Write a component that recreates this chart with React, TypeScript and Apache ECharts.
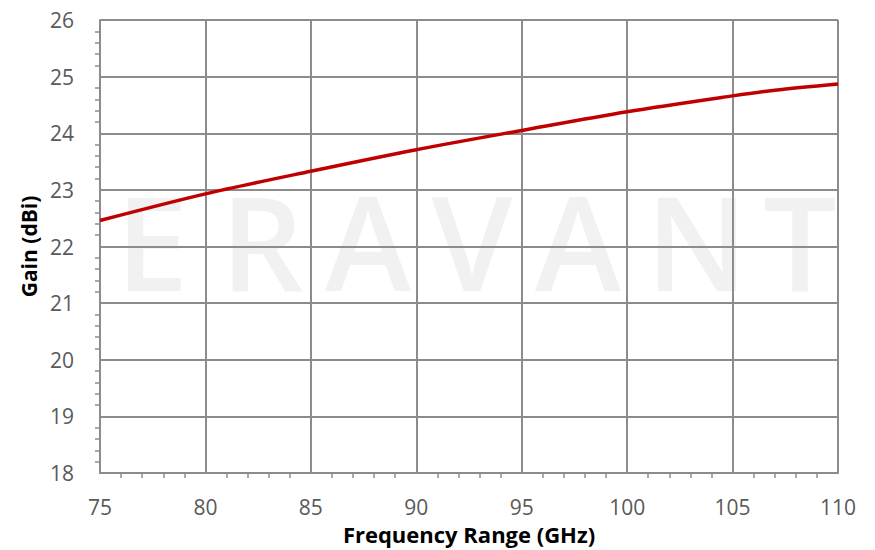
import React, { useEffect, useRef } from "react";
import * as echarts from "echarts";

const frequency = [75, 80, 85, 90, 95, 100, 105, 107, 110];
const gain = [22.46, 22.93, 23.33, 23.71, 24.05, 24.38, 24.66, 24.76, 24.87];
const watermarkLetters = ["E", "R", "A", "V", "A", "N", "T"];
const watermarkCenters = [152, 262, 368, 472, 578, 697, 800];

const FONT = "'Open Sans', sans-serif";

export default function App() {
  const ref = useRef<HTMLDivElement>(null);
  useEffect(() => {
    if (!ref.current) return;
    const chart = echarts.init(ref.current, undefined, { renderer: "svg" });
    const gridColor = "#8c8c8c";
    chart.setOption({
      animation: false,
      backgroundColor: "#ffffff",
      grid: { left: 100, right: 37, top: 20, bottom: 72, containLabel: false },
      graphic: watermarkLetters.map((ch, i) => ({
        type: "text",
        z: -10,
        silent: true,
        x: watermarkCenters[i],
        y: 240,
        style: {
          text: ch,
          fill: "#f1f1f1",
          font: `600 130px ${FONT}`,
          textAlign: "center",
          textVerticalAlign: "middle",
        },
      })),
      xAxis: {
        type: "value",
        min: 75,
        max: 110,
        interval: 5,
        name: "Frequency Range (GHz)",
        nameLocation: "middle",
        nameGap: 50,
        nameTextStyle: { fontFamily: FONT, fontWeight: "bold", fontSize: 22, color: "#000" },
        axisLine: { show: true, lineStyle: { color: gridColor, width: 2 } },
        axisTick: { show: false },
        minorTick: { show: true, splitNumber: 5, length: 5, lineStyle: { color: gridColor, width: 1.5 } },
        axisLabel: { fontFamily: FONT, fontSize: 21, color: "#595959", margin: 23 },
        splitLine: { show: true, lineStyle: { color: gridColor, width: 2 } },
      },
      yAxis: {
        type: "value",
        min: 18,
        max: 26,
        interval: 1,
        name: "Gain (dBi)",
        nameLocation: "middle",
        nameGap: 58,
        nameRotate: 90,
        nameTextStyle: { fontFamily: FONT, fontWeight: "bold", fontSize: 21, color: "#000" },
        axisLine: { show: true, lineStyle: { color: gridColor, width: 2 } },
        axisTick: { show: false },
        minorTick: { show: true, splitNumber: 5, length: 5, lineStyle: { color: gridColor, width: 1.5 } },
        axisLabel: { fontFamily: FONT, fontSize: 21, color: "#595959", margin: 26 },
        splitLine: { show: true, lineStyle: { color: gridColor, width: 2 } },
      },
      series: [
        {
          type: "line",
          data: frequency.map((f, i) => [f, gain[i]]),
          smooth: 0.3,
          showSymbol: false,
          lineStyle: { color: "#c00000", width: 3.5 },
          z: 5,
        },
      ],
    });
    return () => chart.dispose();
  }, []);
  return <div ref={ref} style={{ width: 875, height: 550, position: "absolute", left: 0, top: 0 }} />;
}
